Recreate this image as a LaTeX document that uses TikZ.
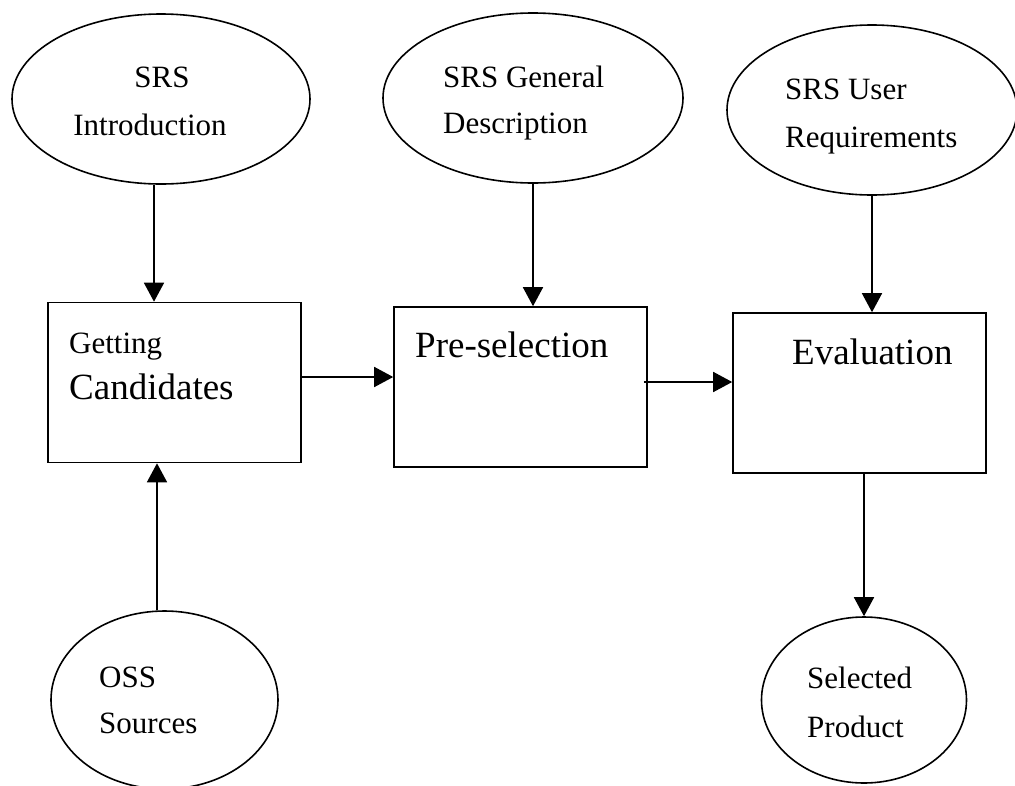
\documentclass[tikz,border=0pt]{standalone}
\usepackage{fontspec}
\setmainfont{Liberation Serif}
\usetikzlibrary{shapes.geometric}
\usetikzlibrary{arrows.meta}

\begin{document}
\begin{tikzpicture}[x=1pt,y=-1pt]
\tikzset{oval/.style = {shape=ellipse,draw,line width=1.6pt,inner sep=0pt}}
\tikzset{stage/.style = {shape=rectangle,draw,line width=1.6pt,minimum width=253pt,minimum height=160pt}}
\tikzset{edge/.style = {-{Triangle[length=19pt,width=20pt]},line width=1.6pt}}
\tikzset{small/.style = {inner sep=0pt,font=\fontsize{31}{37}\selectfont}}
\tikzset{big/.style = {inner sep=0pt,font=\fontsize{37}{44}\selectfont}}
\useasboundingbox (0,0) rectangle (1015,785);

% inputs
\node[oval,minimum width=298pt,minimum height=170pt] (intro) at (161,99) {};
\node[oval,minimum width=300pt,minimum height=170pt] (general) at (533,98) {};
\node[oval,minimum width=290pt,minimum height=170pt] (user) at (872,110) {};
\node[oval,minimum width=227pt,minimum height=178pt] (oss) at (164.5,700) {};
\node[oval,minimum width=205pt,minimum height=166pt] (product) at (864,700) {};

% stages
\node[stage] (getting) at (174.5,382.5) {};
\node[stage] (presel) at (520.5,387) {};
\node[stage] (evaluation) at (859.5,393) {};

% texts
\node[small,anchor=base] (t1) at (162,87) {SRS};
\node[small,anchor=base] (t2) at (150,135) {Introduction};
\node[small,anchor=base west] (t3) at (443,87) {SRS General};
\node[small,anchor=base west] (t4) at (443,133) {Description};
\node[small,anchor=base west] (t5) at (785,99) {SRS User};
\node[small,anchor=base west] (t6) at (785,147) {Requirements};
\node[small,anchor=base west] (t7) at (99,687) {OSS};
\node[small,anchor=base west] (t8) at (99,733) {Sources};
\node[small,anchor=base west] (t9) at (807,688) {Selected};
\node[small,anchor=base west] (t10) at (807,737) {Product};
\node[small,anchor=base west] (t11) at (69,353) {Getting};
\node[big,anchor=base west] (t12) at (69,399) {Candidates};
\node[big,anchor=base west] (t13) at (415,357) {Pre-selection};
\node[big,anchor=base west] (t14) at (792,364) {Evaluation};

\draw[edge] ([xshift=-7pt]intro.south) to ([xshift=-20.5pt]getting.north);
\draw[edge] (general.south) to (general.south |- presel.north);
\draw[edge] (user.south) to (user.south |- evaluation.north);
\draw[edge] ([xshift=-7.5pt]oss.north) to ([xshift=-17.5pt]getting.south);
\draw[edge] ([yshift=5.5pt]getting.east) to ([yshift=5.5pt]getting.east -| presel.west);
\draw[edge] ([xshift=-4pt,yshift=5pt]presel.east) to ([yshift=5pt]presel.east -| evaluation.west);
\draw[edge] (product.north |- evaluation.south) to (product.north);
\end{tikzpicture}
\end{document}
